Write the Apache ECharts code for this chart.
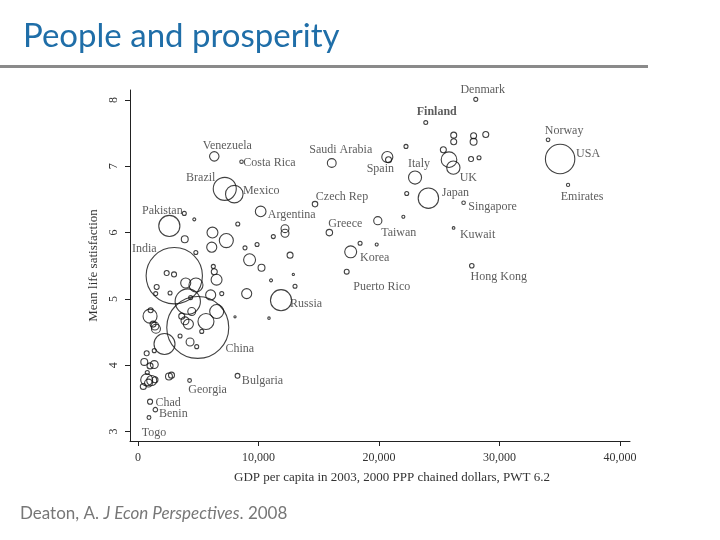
<!DOCTYPE html>
<html><head><meta charset="utf-8">
<script src="https://cdn.jsdelivr.net/npm/echarts@6/dist/echarts.min.js"></script>
<style>html,body{margin:0;padding:0;background:#fff}#c{width:720px;height:540px}</style>
</head><body><div id="c"></div>
<script>
// Country names ("" = unlabelled country)
const names = [
 "Denmark","Finland","Norway","USA","Emirates","Singapore","Kuwait","Hong Kong","Japan","UK",
 "Italy","Spain","Saudi Arabia","Czech Rep","Greece","Taiwan","Korea","Puerto Rico","Russia","Argentina",
 "Venezuela","Costa Rica","Brazil","Mexico","Pakistan","India","China","Georgia","Bulgaria","Chad",
 "Benin","Togo",
 "","","","","","","","","","",
 "","","","","","","","","","",
 "","","","","","","","","","",
 "","","","","","","","","","",
 "","","","","","","","","","",
 "","","","","","","","","","",
 "","","","","","","","","","",
 "","","","","","","","","",""
];
// GDP per capita 2003 (2000 PPP chained dollars)
const gdp = [
 28030,23880,34030,35030,35690,27020,26190,27700,24100,26170,
 22990,20690,16080,14690,15880,19900,17650,17320,11870,10180,
 6330,8590,7200,7990,2600,3010,4960,4280,8260,1000,
 1440,910,
 25810,20790,22240,26200,26200,27850,27850,28860,25340,27640,
 28300,22300,22020,18430,19810,12620,12890,13030,12200,12200,
 11230,11040,10870,3840,4670,8280,6180,7330,3880,6120,
 4800,8880,9880,9260,10250,6250,6330,6520,6950,9020,
 6030,2380,2990,3960,4810,1550,1470,2660,4130,4370,
 6530,5640,4460,3630,3900,4180,8050,3490,4320,4870,
 5290,2200,1000,1050,1410,1250,1490,720,1350,520,
 1350,1000,770,2570,2780,720,1140,1410,870,440
];
// Mean life satisfaction
const sat = [
 8.01,7.66,7.40,7.11,6.72,6.45,6.07,5.50,6.52,6.98,
 6.83,7.14,7.05,6.43,6.00,6.18,5.71,5.41,4.98,6.32,
 7.15,7.07,6.66,6.58,6.10,5.35,4.57,3.77,3.84,3.45,
 3.33,3.21,
 7.10,7.10,7.30,7.47,7.37,7.46,7.37,7.48,7.25,7.11,
 7.13,6.59,6.24,5.84,5.82,5.66,5.37,5.19,6.06,5.99,
 5.94,5.28,4.71,6.29,6.20,6.13,6.00,5.88,5.90,5.78,
 5.70,5.77,5.82,5.59,5.47,5.49,5.41,5.29,5.08,5.08,
 5.06,5.39,5.37,5.24,5.21,5.18,5.08,5.09,4.96,5.02,
 4.81,4.66,4.81,4.74,4.67,4.62,4.73,4.44,4.35,4.28,
 4.51,4.32,4.74,4.83,4.59,4.62,4.55,4.18,4.22,4.05,
 4.01,3.99,3.89,3.83,3.85,3.78,3.77,3.78,3.73,3.68
];
// Population (millions)
const pop = [
 5.4,5.2,4.6,290,3.5,4.2,2.4,6.8,140,59,
 57,41,26,10.2,14,22.6,48,8,150,38,
 30,4,178,103,150,1065,1290,4.7,7.8,8.6,
 7,5,
 82,12,5.4,12,12,12,16,12,12,8.4,
 5.4,5.4,3,5.4,3,12,1.4,5.4,21,21,
 5.4,3,2,5.4,3,5.4,40,66,16,34,
 5.4,5.4,5.4,48,16,5.4,12,40,5.4,34,
 34,8.4,8.4,34,66,8.4,5.4,5.4,215,5.4,
 66,86,21,12,21,34,1.4,5.4,21,5.4,
 5.4,148,66,8.4,21,12,27,8.4,5.4,16,
 21,12,5.4,16,12,48,34,12,21,12
];
const xTicks = [0, 10000, 20000, 30000, 40000];
const yTicks = [3, 4, 5, 6, 7, 8];

// label placement (offset of label centre from the circle centre, px)
const labelOffsets = {
 "Denmark":[7,-10],"Finland":[11,-11],"Norway":[16,-9],"USA":[28,-5],"Emirates":[14,12],
 "Singapore":[29,4],"Kuwait":[24,7],"Hong Kong":[27,11],"Japan":[27,-5],"UK":[15,10],
 "Italy":[4,-14],"Spain":[-7,12],"Saudi Arabia":[9,-13],"Czech Rep":[27,-7],"Greece":[16,-9],
 "Taiwan":[21,12],"Korea":[24,6],"Puerto Rico":[35,15],"Russia":[25,4],"Argentina":[31,3],
 "Venezuela":[13,-11],"Costa Rica":[28,1],"Brazil":[-24,-11],"Mexico":[27,-3],"Pakistan":[-7,-15],
 "India":[-30,-27],"China":[42,21],"Georgia":[18,9],"Bulgaria":[25,5],"Chad":[18,1],
 "Benin":[18,4],"Togo":[5,15]
};

const SERIF = "'Liberation Serif','DejaVu Serif',serif";
const data = gdp.map((g, i) => {
  const item = { value: [g, sat[i], pop[i]], name: names[i] };
  if (names[i]) {
    item.label = {
      show: true, position: 'inside', offset: labelOffsets[names[i]],
      formatter: names[i], align: 'center', verticalAlign: 'middle',
      fontFamily: SERIF, fontSize: 12, color: '#333',
      fontWeight: names[i] === 'Finland' ? 'bold' : 'normal'
    };
  }
  return item;
});

const chart = echarts.init(document.getElementById('c'), null, { renderer: 'canvas' });
chart.setOption({
  animation: false,
  backgroundColor: '#fff',
  title: {
    text: 'People and prosperity', left: 18, top: 15,
    textStyle: { fontFamily: 'Lato', fontWeight: 'normal', fontSize: 33, color: '#1f6ea8' }
  },
  graphic: [
    { type: 'rect', shape: { x: 0, y: 65, width: 648, height: 3 }, style: { fill: '#8a8a8a' } },
    { type: 'text', left: 20, top: 505, style: {
        text: 'Deaton, A. {i|J Econ Perspectives}. 2008',
        fontFamily: 'Lato', fontSize: 17, fill: '#777',
        rich: { i: { fontFamily: 'Lato', fontStyle: 'italic', fontSize: 17, color: '#777' } }
    } }
  ],
  grid: { left: 130, top: 90, width: 500, height: 351, containLabel: false },
  xAxis: {
    type: 'value', min: -664, max: 40830,
    splitLine: { show: false },
    axisLine: { show: true, onZero: false, lineStyle: { color: '#222', width: 1 } },
    axisTick: { show: true, length: 5, customValues: xTicks, lineStyle: { color: '#222' } },
    axisLabel: { customValues: xTicks, margin: 11, fontFamily: SERIF, fontSize: 12, color: '#333',
      formatter: v => v.toLocaleString('en-US') },
    name: 'GDP per capita in 2003, 2000 PPP chained dollars, PWT 6.2',
    nameLocation: 'middle', nameGap: 30,
    nameTextStyle: { fontFamily: SERIF, fontSize: 13, color: '#333', padding: [0, 0, 0, 24] }
  },
  yAxis: {
    type: 'value', min: 2.857, max: 8.151,
    splitLine: { show: false },
    axisLine: { show: true, onZero: false, lineStyle: { color: '#222', width: 1 } },
    axisTick: { show: true, length: 5, customValues: yTicks, lineStyle: { color: '#222' } },
    axisLabel: { customValues: yTicks, rotate: 90, margin: 10, fontFamily: SERIF, fontSize: 12, color: '#333' },
    name: 'Mean life satisfaction', nameLocation: 'middle', nameRotate: 90, nameGap: 25,
    nameTextStyle: { fontFamily: SERIF, fontSize: 13, color: '#333' }
  },
  series: [{
    type: 'scatter',
    data: data,
    symbol: 'circle',
    symbolSize: v => Math.max(2.2, 2 * 0.863 * Math.sqrt(v[2])),
    itemStyle: { color: 'rgba(0,0,0,0)', borderColor: '#111', borderWidth: 1.1 },
    emphasis: { disabled: true },
    clip: false
  }]
});
</script>
</body></html>
